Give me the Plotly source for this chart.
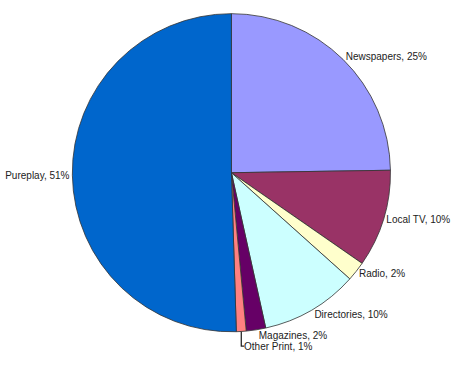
import plotly.graph_objects as go

labels = ["Newspapers", "Local TV", "Radio", "Directories", "Magazines", "Other Print", "Pureplay"]
values = [25, 10, 2, 10, 2, 1, 51]
colors = ["#9999FF", "#993366", "#FFFFCC", "#CCFFFF", "#660066", "#FF8080", "#0066CC"]

W, H = 455, 372
cx, cy, r = 230, 170, 166

fig = go.Figure(go.Pie(
    labels=labels,
    values=values,
    sort=False,
    direction="clockwise",
    rotation=0,
    marker=dict(colors=colors, line=dict(color="#333333", width=0.8)),
    texttemplate="%{label}, %{value}%",
    textposition="outside",
    textfont=dict(family="Liberation Sans, Arial, sans-serif", size=10, color="#222222"),
    domain=dict(x=[(cx - r) / W, (cx + r) / W], y=[1 - (cy + r) / H, 1 - (cy - r) / H]),
    showlegend=False,
    hoverinfo="label+percent",
))

fig.update_layout(
    width=W, height=H,
    margin=dict(l=0, r=0, t=0, b=0),
    paper_bgcolor="white",
    plot_bgcolor="white",
)

fig.write_html("out.html")
